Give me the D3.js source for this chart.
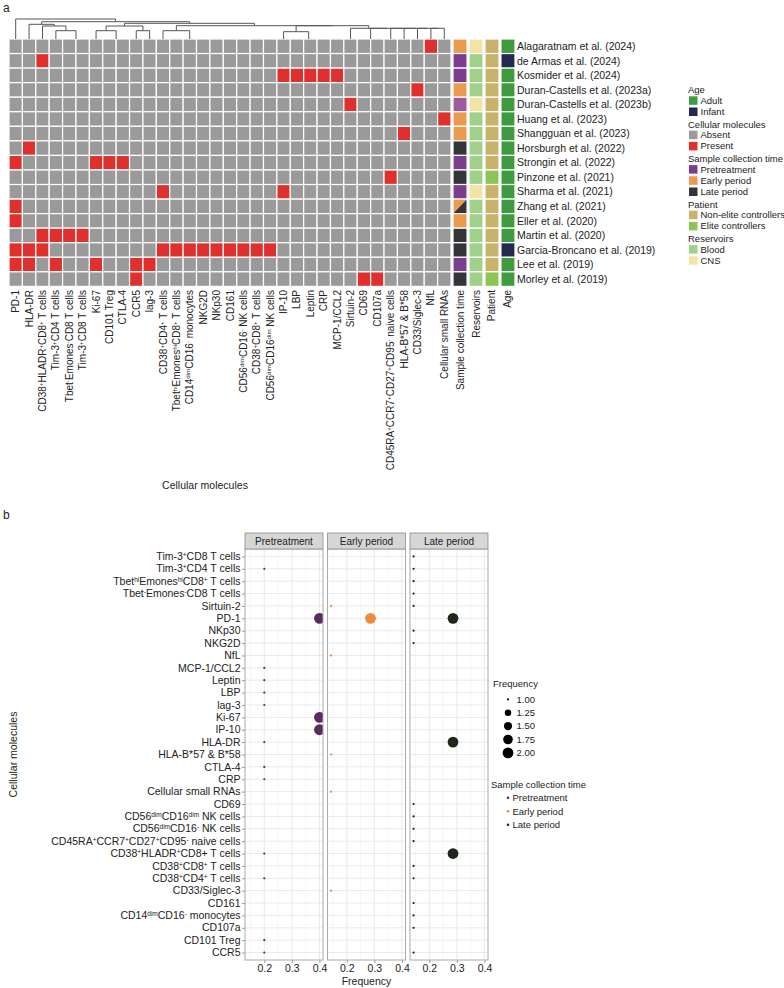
<!DOCTYPE html>
<html>
<head>
<meta charset="utf-8">
<script src="https://cdn.jsdelivr.net/npm/d3@7"></script>
<style>
  body { margin: 0; background: #fff; }
  svg text { font-family: "Liberation Sans", Arial, sans-serif; fill: #222; }
</style>
</head>
<body>
<svg id="chart" width="784" height="988"></svg>
<script>
// ******* Data: panel a *******
var studies = ["Alagaratnam et al. (2024)", "de Armas et al. (2024)", "Kosmider et al. (2024)",
  "Duran-Castells et al. (2023a)", "Duran-Castells et al. (2023b)", "Huang et al. (2023)",
  "Shangguan et al. (2023)", "Horsburgh et al. (2022)", "Strongin et al. (2022)", "Pinzone et al. (2021)",
  "Sharma et al. (2021)", "Zhang et al. (2021)", "Eller et al. (2020)", "Martin et al. (2020)",
  "Garcia-Broncano et al. (2019)", "Lee et al. (2019)", "Morley et al. (2019)"];

// heatmap columns, in dendrogram order ("^{..}" = superscript)
var molecules = ["PD-1", "HLA-DR", "CD38^{+}HLADR^{+}CD8^{+} T cells", "Tim-3^{+}CD4 T cells",
  "Tbet^{-}Emones^{-}CD8 T cells", "Tim-3^{+}CD8 T cells", "Ki-67", "CD101 Treg", "CTLA-4", "CCR5", "lag-3",
  "CD38^{+}CD4^{+} T cells", "Tbet^{hi}Emones^{hi}CD8^{+} T cells", "CD14^{dim}CD16^{-} monocytes", "NKG2D",
  "NKp30", "CD161", "CD56^{dim}CD16^{-} NK cells", "CD38^{+}CD8^{+} T cells", "CD56^{dim}CD16^{dim} NK cells",
  "IP-10", "LBP", "Leptin", "CRP", "MCP-1/CCL2", "Sirtuin-2", "CD69", "CD107a",
  "CD45RA^{+}CCR7^{+}CD27^{+}CD95^{-} naive cells", "HLA-B*57 & B*58", "CD33/Siglec-3", "NfL", "Cellular small RNAs"];

// column indices marked "Present" for each study
var present = [[31], [2], [20, 21, 22, 23, 24], [30], [25], [32], [29], [1], [0, 6, 7, 8], [28], [11, 20],
  [0], [0], [2, 3, 4, 5], [0, 1, 2, 11, 12, 13, 14, 15, 16, 17, 18, 19], [0, 1, 3, 6, 9, 10], [9, 26, 27]];

var sampleTime = ["Early period", "Pretreatment", "Pretreatment", "Early period", "Mixed", "Early period",
  "Early period", "Late period", "Pretreatment", "Late period", "Pretreatment", "Early/Late", "Early period",
  "Late period", "Late period", "Pretreatment", "Late period"];
var reservoirs = ["CNS", "Blood", "Blood", "Blood", "CNS", "Blood", "Blood", "Blood", "Blood", "Blood", "CNS",
  "Blood", "Blood", "Blood", "Blood", "Blood", "Blood"];
var patient = ["Non-elite controllers", "Non-elite controllers", "Non-elite controllers", "Non-elite controllers",
  "Non-elite controllers", "Non-elite controllers", "Non-elite controllers", "Non-elite controllers",
  "Non-elite controllers", "Elite controllers", "Non-elite controllers", "Non-elite controllers",
  "Non-elite controllers", "Non-elite controllers", "Non-elite controllers", "Non-elite controllers", "Elite controllers"];
var age = ["Adult", "Infant", "Adult", "Adult", "Adult", "Adult", "Adult", "Adult", "Adult", "Adult", "Adult",
  "Adult", "Adult", "Adult", "Infant", "Adult", "Adult"];
var annotNames = ["Sample collection time", "Reservoirs", "Patient", "Age"];

// column dendrogram: [height, left, right], leaves are column indices
var dendro = [2.0, 0,
  [1.73,
    [1.47, 1, [1.3, 2, [0.83, 3, [0, 4, 5]]]],
    [1.57,
      [1.3, [0.83, 6, [0, 7, 8]], [0.83, 9, 10]],
      [1.33,
        [0.83, 11, [0, 12, [0, 13, [0, 14, [0, 15, [0, 16, [0, 17, [0, 18, 19]]]]]]]],
        [1.33,
          [0.73, 20, [0, 21, [0, 22, [0, 23, 24]]]],
          [1.07, 25, [1.07, [0, 26, 27], [1.07, 28, [1.07, 29, [1.07, 30, [1.07, 31, 32]]]]]]]]]]];

// ******* Data: panel b *******
var periods = ["Pretreatment", "Early period", "Late period"];
var bRows = ["Tim-3^{+}CD8 T cells", "Tim-3^{+}CD4 T cells", "Tbet^{hi}Emones^{hi}CD8^{+} T cells",
  "Tbet^{-}Emones^{-}CD8 T cells", "Sirtuin-2", "PD-1", "NKp30", "NKG2D", "NfL", "MCP-1/CCL2", "Leptin", "LBP",
  "lag-3", "Ki-67", "IP-10", "HLA-DR", "HLA-B*57 & B*58", "CTLA-4", "CRP", "Cellular small RNAs", "CD69",
  "CD56^{dim}CD16^{dim} NK cells", "CD56^{dim}CD16^{-} NK cells", "CD45RA^{+}CCR7^{+}CD27^{+}CD95^{-} naive cells",
  "CD38^{+}HLADR^{+}CD8+ T cells", "CD38^{+}CD8^{+} T cells", "CD38^{+}CD4^{+} T cells", "CD33/Siglec-3", "CD161",
  "CD14^{dim}CD16^{-} monocytes", "CD107a", "CD101 Treg", "CCR5"];
var preRows = [1, 5, 9, 10, 11, 12, 13, 14, 15, 17, 18, 24, 26, 31, 32];
var preFreq = [0.2, 0.4, 0.2, 0.2, 0.2, 0.2, 0.4, 0.4, 0.2, 0.2, 0.2, 0.2, 0.2, 0.2, 0.2];
var preCount = [1, 2, 1, 1, 1, 1, 2, 2, 1, 1, 1, 1, 1, 1, 1];
var earlyRows = [4, 5, 8, 16, 19, 27];
var earlyFreq = [0.143, 0.286, 0.143, 0.143, 0.143, 0.143];
var earlyCount = [1, 2, 1, 1, 1, 1];
var lateRows = [0, 1, 2, 3, 4, 5, 6, 7, 15, 20, 21, 22, 23, 24, 25, 26, 28, 29, 30, 32];
var lateFreq = [0.143, 0.143, 0.143, 0.143, 0.143, 0.286, 0.143, 0.143, 0.286, 0.143, 0.143, 0.143, 0.143,
  0.286, 0.143, 0.143, 0.143, 0.143, 0.143, 0.143];
var lateCount = [1, 1, 1, 1, 1, 2, 1, 1, 2, 1, 1, 1, 1, 2, 1, 1, 1, 1, 1, 1];
var freqTicks = [0.2, 0.3, 0.4];
var sizeTicks = [1.00, 1.25, 1.50, 1.75, 2.00];

// ******* Colours *******
var cellCol = { Absent: "#9a9a9a", Present: "#e0302e" };
var timeCol = { "Pretreatment": "#7a3e8d", "Early period": "#ea9b4e", "Late period": "#333538", "Mixed": "#9b5b9d" };
var resCol = { Blood: "#a0d18b", CNS: "#f2e4a6" };
var patCol = { "Non-elite controllers": "#c9b26c", "Elite controllers": "#8cc553" };
var ageCol = { Adult: "#3f9b40", Infant: "#24274f" };
var dotCol = { "Pretreatment": "#5a2b5e", "Early period": "#ee8b3c", "Late period": "#1f261c" };

var svg = d3.select("#chart");

// superscript helper for "^{..}" markup
function rich(sel, str) {
  str.split(/(\^\{[^}]*\})/).forEach(function (p) {
    if (!p) return;
    if (p.startsWith("^{")) {
      sel.append("tspan").attr("baseline-shift", "super").attr("font-size", "0.62em").text(p.slice(2, -1));
    } else {
      sel.append("tspan").text(p);
    }
  });
}

// ******* Panel a: heatmap *******
svg.append("text").attr("x", 3).attr("y", 12).attr("font-size", 12).text("a");

var x = d3.scaleBand().domain(d3.range(molecules.length)).range([9, 451]);
var y = d3.scaleBand().domain(d3.range(studies.length)).range([39, 286.4]);

var cells = [];
studies.forEach(function (s, r) {
  molecules.forEach(function (m, c) {
    cells.push({ r: r, c: c, v: present[r].indexOf(c) >= 0 ? "Present" : "Absent" });
  });
});
svg.append("g").selectAll("rect").data(cells).enter().append("rect")
  .attr("x", d => x(d.c)).attr("y", d => y(d.r))
  .attr("width", x.bandwidth()).attr("height", y.bandwidth())
  .attr("fill", d => cellCol[d.v]).attr("stroke", "#fff").attr("stroke-width", 1.2);

// annotation columns
var annot = [sampleTime, reservoirs, patient, age];
var annotCols = [timeCol, resCol, patCol, ageCol];
var ax = d3.scaleBand().domain(d3.range(4)).range([453, 515]).paddingInner(0.12);
annot.forEach(function (arr, j) {
  var g = svg.append("g");
  arr.forEach(function (v, r) {
    var x0 = ax(j), y0 = y(r), w = ax.bandwidth(), h = y.bandwidth();
    if (v === "Early/Late") {
      g.append("path").attr("d", `M${x0},${y0}H${x0 + w}L${x0},${y0 + h}Z`).attr("fill", timeCol["Early period"]);
      g.append("path").attr("d", `M${x0 + w},${y0}V${y0 + h}H${x0}Z`).attr("fill", timeCol["Late period"]);
      g.append("rect").attr("x", x0).attr("y", y0).attr("width", w).attr("height", h)
        .attr("fill", "none").attr("stroke", "#fff").attr("stroke-width", 1.2);
    } else {
      g.append("rect").attr("x", x0).attr("y", y0).attr("width", w).attr("height", h)
        .attr("fill", annotCols[j][v]).attr("stroke", "#fff").attr("stroke-width", 1.2);
    }
  });
});

// study labels
svg.append("g").selectAll("text").data(studies).enter().append("text")
  .attr("x", 517).attr("y", (d, i) => y(i) + y.bandwidth() / 2).attr("dy", "0.35em")
  .attr("font-size", 10.5).text(d => d);

// column labels
var colLab = svg.append("g");
molecules.forEach(function (m, i) {
  var t = colLab.append("text").attr("font-size", 10).attr("text-anchor", "end")
    .attr("transform", `translate(${x(i) + x.bandwidth() / 2 + 3.5},290) rotate(-90)`);
  rich(t, m);
});
annotNames.forEach(function (m, j) {
  colLab.append("text").attr("font-size", 10).attr("text-anchor", "end")
    .attr("transform", `translate(${ax(j) + ax.bandwidth() / 2 + 3.5},290) rotate(-90)`).text(m);
});
svg.append("text").attr("x", 205).attr("y", 489).attr("text-anchor", "middle").attr("font-size", 10.5)
  .text("Cellular molecules");

// dendrogram
var hy = d3.scaleLinear().domain([0, 2]).range([39, 19]);
var dPath = d3.path();
function drawNode(n) {
  if (typeof n === "number") return { x: x(n) + x.bandwidth() / 2, h: 0 };
  var a = drawNode(n[1]), b = drawNode(n[2]);
  if (n[0] > 0) {
    dPath.moveTo(a.x, hy(a.h)); dPath.lineTo(a.x, hy(n[0]));
    dPath.lineTo(b.x, hy(n[0])); dPath.lineTo(b.x, hy(b.h));
  }
  return { x: (a.x + b.x) / 2, h: n[0] };
}
drawNode(dendro);
svg.append("path").attr("d", dPath.toString()).attr("fill", "none").attr("stroke", "#555").attr("stroke-width", 1);

// legend a
var legendA = [
  { title: "Age", keys: ["Adult", "Infant"], col: ageCol },
  { title: "Cellular molecules", keys: ["Absent", "Present"], col: cellCol },
  { title: "Sample collection time", keys: ["Pretreatment", "Early period", "Late period"], col: timeCol },
  { title: "Patient", keys: ["Non-elite controllers", "Elite controllers"], col: patCol },
  { title: "Reservoirs", keys: ["Blood", "CNS"], col: resCol }
];
var ly = 90;
var lg = svg.append("g");
legendA.forEach(function (grp) {
  lg.append("text").attr("x", 688).attr("y", ly).attr("dy", "0.35em").attr("font-size", 9.5).text(grp.title);
  ly += 10.5;
  grp.keys.forEach(function (k) {
    lg.append("rect").attr("x", 689).attr("y", ly - 4.2).attr("width", 8.5).attr("height", 8.5).attr("fill", grp.col[k]);
    lg.append("text").attr("x", 700.5).attr("y", ly).attr("dy", "0.35em").attr("font-size", 9.5).text(k);
    ly += 11.2;
  });
  ly += 1.5;
});

// ******* Panel b: faceted dot plot *******
svg.append("text").attr("x", 3).attr("y", 519).attr("font-size", 12).text("b");

var panelW = 78, panelGap = 4.5, pLeft = 245, pTop = 549, pBottom = 960;
var fx = d3.scaleLinear().domain([0.13, 0.4129]).range([0, panelW]);
var fy = d3.scalePoint().domain(d3.range(bRows.length)).range([pTop, pBottom]).padding(0.6);
var rScale = d3.scaleSqrt().domain([0, 1]).range([1.1, 5.4]);
var pData = [
  { rows: preRows, freq: preFreq, count: preCount },
  { rows: earlyRows, freq: earlyFreq, count: earlyCount },
  { rows: lateRows, freq: lateFreq, count: lateCount }
];

periods.forEach(function (p, k) {
  var px = pLeft + k * (panelW + panelGap);
  var g = svg.append("g").attr("transform", `translate(${px},0)`);
  var clipId = "clip" + k;
  g.append("clipPath").attr("id", clipId).append("rect")
    .attr("x", 0).attr("y", pTop).attr("width", panelW).attr("height", pBottom - pTop);
  g.append("rect").attr("x", 0).attr("y", pTop).attr("width", panelW).attr("height", pBottom - pTop).attr("fill", "#fff");
  // grid
  [0.15, 0.25, 0.35].forEach(function (v) {
    g.append("line").attr("x1", fx(v)).attr("x2", fx(v)).attr("y1", pTop).attr("y2", pBottom)
      .attr("stroke", "#f1f1f1").attr("stroke-width", 0.6);
  });
  freqTicks.forEach(function (v) {
    g.append("line").attr("x1", fx(v)).attr("x2", fx(v)).attr("y1", pTop).attr("y2", pBottom)
      .attr("stroke", "#e4e4e4").attr("stroke-width", 0.8);
  });
  bRows.forEach(function (r, i) {
    g.append("line").attr("x1", 0).attr("x2", panelW).attr("y1", fy(i)).attr("y2", fy(i))
      .attr("stroke", "#e4e4e4").attr("stroke-width", 0.8);
  });
  // points
  var d = pData[k];
  g.append("g").attr("clip-path", `url(#${clipId})`).selectAll("circle").data(d.rows).enter().append("circle")
    .attr("cx", (r, i) => fx(d.freq[i])).attr("cy", r => fy(r))
    .attr("r", (r, i) => rScale(d.count[i] - 1)).attr("fill", dotCol[p]);
  // border
  g.append("rect").attr("x", 0).attr("y", pTop).attr("width", panelW).attr("height", pBottom - pTop)
    .attr("fill", "none").attr("stroke", "#aaa").attr("stroke-width", 1);
  // strip
  g.append("rect").attr("x", 0).attr("y", pTop - 16).attr("width", panelW).attr("height", 16)
    .attr("fill", "#d6d6d6").attr("stroke", "#8c8c8c").attr("stroke-width", 0.8);
  g.append("text").attr("x", panelW / 2).attr("y", pTop - 8).attr("dy", "0.35em").attr("text-anchor", "middle")
    .attr("font-size", 10).attr("fill", "#1a1a1a").text(p);
  // x axis
  var xa = g.append("g").attr("transform", `translate(0,${pBottom})`)
    .call(d3.axisBottom(fx).tickValues(freqTicks).tickFormat(d3.format(".1f")).tickSize(3).tickPadding(2));
  xa.select(".domain").remove();
  xa.selectAll("line").attr("stroke", "#999");
  xa.selectAll("text").attr("font-size", 10.5).attr("fill", "#333")
    .style("font-family", '"Liberation Sans", Arial, sans-serif');
});

// y axis
var ya = svg.append("g").attr("transform", `translate(${pLeft},0)`)
  .call(d3.axisLeft(fy).tickSize(3).tickPadding(2).tickFormat(""));
ya.select(".domain").remove();
ya.selectAll("line").attr("stroke", "#999");
var yl = svg.append("g");
bRows.forEach(function (r, i) {
  var t = yl.append("text").attr("x", pLeft - 4.5).attr("y", fy(i)).attr("dy", "0.35em")
    .attr("text-anchor", "end").attr("font-size", 10.5);
  rich(t, r);
});

svg.append("text").attr("x", pLeft + (3 * panelW + 2 * panelGap) / 2).attr("y", 985).attr("text-anchor", "middle")
  .attr("font-size", 10.5).text("Frequency");
svg.append("text").attr("transform", `translate(17,${(pTop + pBottom) / 2}) rotate(-90)`).attr("text-anchor", "middle")
  .attr("font-size", 10.5).text("Cellular molecules");

// legend b: size
var lb = svg.append("g");
lb.append("text").attr("x", 493).attr("y", 684).attr("dy", "0.35em").attr("font-size", 9.5).text("Frequency");
sizeTicks.forEach(function (v, i) {
  var yy = 699.3 + i * 13.4;
  lb.append("circle").attr("cx", 508).attr("cy", yy).attr("r", rScale(v - 1)).attr("fill", "#000");
  lb.append("text").attr("x", 516.5).attr("y", yy).attr("dy", "0.35em").attr("font-size", 9.5).text(d3.format(".2f")(v));
});
// legend b: colour
lb.append("text").attr("x", 491).attr("y", 784.3).attr("dy", "0.35em").attr("font-size", 9.5).text("Sample collection time");
periods.forEach(function (p, i) {
  var yy = 797.7 + i * 13.5;
  lb.append("circle").attr("cx", 508).attr("cy", yy).attr("r", 1.3).attr("fill", dotCol[p]);
  lb.append("text").attr("x", 512.5).attr("y", yy).attr("dy", "0.35em").attr("font-size", 9.5).text(p);
});
</script>
</body>
</html>
